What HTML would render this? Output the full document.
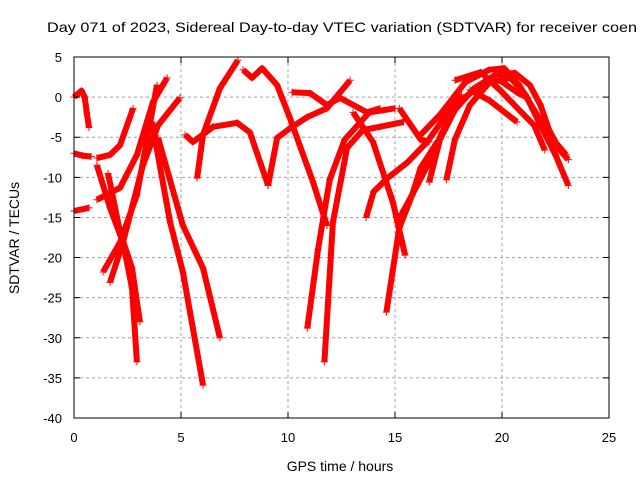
<!DOCTYPE html>
<html><head><meta charset="utf-8"><style>
body{margin:0;background:#fff;}
svg{display:block;font-family:"Liberation Sans",sans-serif;}
</style></head><body>
<svg id="chart" width="640" height="480" viewBox="0 0 640 480">
<rect width="640" height="480" fill="#fff"/>
<text x="47" y="32" font-size="14" textLength="590" lengthAdjust="spacingAndGlyphs">Day 071 of 2023, Sidereal Day-to-day VTEC variation (SDTVAR) for receiver coen</text>
<g id="grid"></g>
<g id="series"></g>
<g id="axes"></g>
<text transform="translate(19,238) rotate(-90)" text-anchor="middle" font-size="14">SDTVAR / TECUs</text>
<text x="340" y="471" text-anchor="middle" font-size="14">GPS time / hours</text>
</svg>
<script>
const xTicks=[0,5,10,15,20,25];
const yTicks=[5,0,-5,-10,-15,-20,-25,-30,-35,-40];
const track1=[[0,0],[0.35,0.8],[0.5,0],[0.6,-2],[0.7,-3.8]];
const track2=[[0,-7],[0.4,-7.3],[0.8,-7.4]];
const track3=[[0,-14.2],[0.7,-13.8]];
const track4=[[1.07,-7.6],[1.68,-7.2],[2.15,-6],[2.76,-1.4]];
const track5=[[1.07,-12.8],[2.15,-11.3],[2.94,-7.2],[3.69,-0.6],[4.35,2.4]];
const track6=[[1.36,-21.8],[2.15,-18.1],[2.94,-12.2],[3.88,1.5]];
const track7=[[1.68,-23.1],[2.29,-18.1],[3.22,-8.5],[3.93,-3.5],[4.95,-0.1]];
const track8=[[1.07,-8.5],[1.68,-13.8],[2.29,-18.1],[2.71,-23.8],[2.94,-33]];
const track9=[[1.59,-9.5],[2.15,-16.8],[2.71,-21.3],[3.08,-28]];
const track10=[[3.64,-3.1],[4.49,-15.6],[5.09,-21.8],[6.03,-35.9]];
const track11=[[3.93,-5.1],[5.09,-16],[6.03,-21.3],[6.82,-30]];
const track12=[[5.75,-10.1],[6.03,-4.7],[6.82,1.1],[7.66,4.6]];
const track13=[[5.19,-4.7],[5.56,-5.6],[6.5,-3.7],[7.62,-3.2],[8.22,-4.4],[9.07,-11]];
const track14=[[7.9,3.4],[8.32,2.4],[8.79,3.6],[9.49,1.5],[10.09,-2.6],[11.17,-10.6],[11.82,-16]];
const track15=[[9.07,-11],[9.49,-5.1],[10.09,-3.9],[10.89,-2.5],[11.82,-1.4],[12.9,2.1]];
const track16=[[10.19,0.6],[11.03,0.5],[11.82,-1],[12.43,-0.1],[13.69,-1.9],[14.3,-1.4]];
const track18=[[10.9,-28.8],[11.4,-19],[11.95,-10.3],[12.65,-5.3],[13.8,-1.9],[15.0,-1.4]];
const track19=[[11.7,-33],[12.1,-15.6],[12.76,-6.3],[13.5,-4.1],[14.3,-3.7],[15.4,-3.1]];
const track20=[[13.04,-1.9],[13.97,-5.6],[14.9,-13.1],[15.47,-19.7]];
const track21=[[14.6,-26.8],[15.2,-16.3],[15.8,-12.2],[16.2,-8.8],[17.0,-5.5]];
const track22=[[15.2,-1.4],[16.2,-5.3],[16.6,-5.6]];
const track23=[[13.65,-15],[14.0,-11.8],[14.65,-10.1],[15.6,-8.1],[16.5,-5.6],[17.3,-2.6],[18.1,0.3]];
const arch1=[[15.1,-15.6],[15.8,-12.2],[16.6,-8.1],[17.2,-4.4],[18.0,-0.6],[19.0,1.5],[19.9,2.1],[20.7,0.6],[21.2,-0.1]];
const arch2=[[16.6,-10.6],[17.1,-5.3],[17.8,-1.6],[18.7,1.1],[19.7,2.8],[20.6,3.0],[21.3,1.5],[21.8,-1],[22.2,-4.1],[22.7,-6.6],[23.1,-7.8]];
const arch3=[[17.4,-10.3],[17.8,-5.3],[18.5,-1],[19.4,1.8],[20.4,2.4],[21.1,0.3],[21.8,-3.5],[22.5,-7.2],[23.1,-11]];
const arch4=[[16.2,-4.7],[17.1,-2.2],[18.3,1.9],[19.4,3.4],[20.1,3.6],[20.8,1.5],[21.5,-1.6],[22.2,-4.7],[23.0,-7.2]];
const arch5=[[17.8,2.1],[19.0,3.1],[19.9,0.9],[20.8,-1.6],[21.5,-3.5],[22.0,-6.6]];
const arch6=[[18.5,0.9],[19.4,-0.4],[20.7,-3.1]];
const allTracks=[track1,track2,track3,track4,track5,track6,track7,track8,track9,track10,track11,track12,track13,track14,track15,track16,track18,track19,track20,track21,track22,track23,arch1,arch2,arch3,arch4,arch5,arch6];

const X0=74,X1=609,Y0=57,Y1=418,XMIN=0,XMAX=25,YMIN=-40,YMAX=5;
function sx(v){return X0+(v-XMIN)/(XMAX-XMIN)*(X1-X0);}
function sy(v){return Y0+(YMAX-v)/(YMAX-YMIN)*(Y1-Y0);}
const NS="http://www.w3.org/2000/svg";
function mk(tag,attrs,parent){const e=document.createElementNS(NS,tag);for(const k in attrs)e.setAttribute(k,attrs[k]);parent.appendChild(e);return e;}
const grid=document.getElementById('grid'),axes=document.getElementById('axes'),ser=document.getElementById('series');
xTicks.forEach(t=>{
  const x=sx(t);
  if(t>XMIN&&t<XMAX){const g=mk('line',{x1:x,x2:x,y1:Y0,y2:Y1,stroke:'#a0a0a0','stroke-dasharray':'3,3','stroke-width':1},grid);
  
  }
  const tk=mk('path',{d:`M${x},${Y1}v-6M${x},${Y0}v6`,stroke:'#000','stroke-width':1},axes);
  
  
  const lb=mk('text',{x:x,y:442,'text-anchor':'middle','font-size':13},axes);lb.textContent=t;
  
  
});
yTicks.forEach(t=>{
  const y=sy(t);
  if(t>YMIN&&t<YMAX){const g=mk('line',{x1:X0,x2:X1,y1:y,y2:y,stroke:'#a0a0a0','stroke-dasharray':'3,3','stroke-width':1},grid);
  
  }
  const tk=mk('path',{d:`M${X0},${y}h6M${X1},${y}h-6`,stroke:'#000','stroke-width':1},axes);
  
  
  const lb=mk('text',{x:62,y:y+5,'text-anchor':'end','font-size':13},axes);lb.textContent=t;
  
  
});
const frame=mk('rect',{x:X0,y:Y0,width:X1-X0,height:Y1-Y0,fill:'none',stroke:'#000','stroke-width':1},axes);


allTracks.forEach((tr,i)=>{
  const pts=tr.map(p=>sx(p[0]).toFixed(1)+','+sy(p[1]).toFixed(1)).join(' ');
  const pl=mk('polyline',{points:pts,fill:'none',stroke:'#ff0000','stroke-width':6,'stroke-linejoin':'round','stroke-linecap':'butt'},ser);
  
  
  tr.forEach(p=>{
    const x=sx(p[0]),y=sy(p[1]);
    const m=mk('path',{d:`M${x-3.5},${y}h7M${x},${y-3.5}v7`,stroke:'#ff0000','stroke-width':1},ser);
    
    
  });
});
</script>
</body></html>
